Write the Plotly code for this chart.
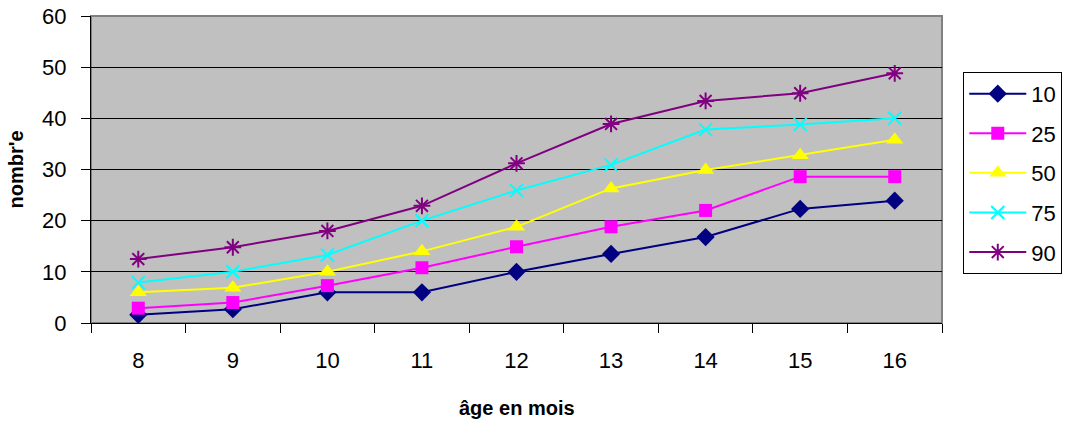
import plotly.graph_objects as go

months = ["8", "9", "10", "11", "12", "13", "14", "15", "16"]
p10 = [1.6, 2.7, 6.0, 6.0, 10.0, 13.5, 16.8, 22.3, 23.9]
p25 = [2.9, 4.0, 7.3, 10.8, 14.9, 18.8, 22.0, 28.6, 28.6]
p50 = [6.0, 6.9, 10.0, 14.0, 18.8, 26.3, 29.9, 32.8, 35.8]
p75 = [7.9, 10.0, 13.3, 20.0, 25.9, 30.9, 37.8, 38.8, 40.0]
p90 = [12.5, 14.8, 18.0, 22.9, 31.2, 38.9, 43.4, 44.9, 48.8]

series = [
    ("10", p10, "#000080", "diamond", 14, None),
    ("25", p25, "#FF00FF", "square", 13, None),
    ("50", p50, "#FFFF00", "triangle-up", 15, None),
    ("75", p75, "#00FFFF", "x-thin-open", 13, 2),
    ("90", p90, "#800080", "asterisk-open", 14, 2),
]

fig = go.Figure()
for name, vals, color, sym, size, lw in series:
    marker = dict(symbol=sym, size=size, color=color)
    if lw:
        marker["line"] = dict(color=color, width=lw)
    else:
        marker["line"] = dict(width=0)
    fig.add_trace(go.Scatter(
        x=months, y=vals, name=name, mode="lines+markers",
        line=dict(color=color, width=2), marker=marker, legendgroup=name,
    ))

font = "Liberation Sans, Arial, sans-serif"
fig.update_layout(
    width=1069, height=422,
    margin=dict(l=91, r=127, t=16, b=99, autoexpand=False),
    paper_bgcolor="white", plot_bgcolor="#C0C0C0",
    font=dict(family=font, size=22, color="black"),
    showlegend=True,
    legend=dict(x=1.025, y=0.818, xanchor="left", yanchor="top",
                bordercolor="black", borderwidth=1, bgcolor="white",
                font=dict(size=22), tracegroupgap=8, itemwidth=57),
    xaxis=dict(type="category", range=[-0.5, 8.5], tickson="boundaries",
               ticks="outside", ticklen=9,
               tickcolor="black", showline=True, linecolor="black", linewidth=1,
               showgrid=False, tickfont=dict(size=22), automargin=False,
               ticklabelstandoff=18),
    yaxis=dict(range=[0, 60], dtick=10, ticks="outside", ticklen=9, tickcolor="black",
               showline=True, linecolor="black", linewidth=1,
               showgrid=True, gridcolor="black", gridwidth=1, zeroline=False,
               tickfont=dict(size=22), automargin=False, ticklabelstandoff=10),
)
fig.add_shape(type="rect", xref="paper", yref="paper", x0=0, x1=1, y0=0, y1=1,
              line=dict(color="#808080", width=2), layer="below")
fig.add_annotation(text="<b>âge en mois</b>", xref="paper", yref="paper",
                   x=0.5, y=-85/307.6, xanchor="center", yanchor="middle",
                   showarrow=False, font=dict(size=20))
fig.add_annotation(text="<b>nombr'e</b>", xref="paper", yref="paper",
                   x=-76/851, y=0.5, xanchor="center", yanchor="middle",
                   textangle=-90, showarrow=False, font=dict(size=20))
fig.write_html("out.html", config={"displayModeBar": False},
               post_script="document.body.style.margin='0';document.body.style.overflow='hidden';")
